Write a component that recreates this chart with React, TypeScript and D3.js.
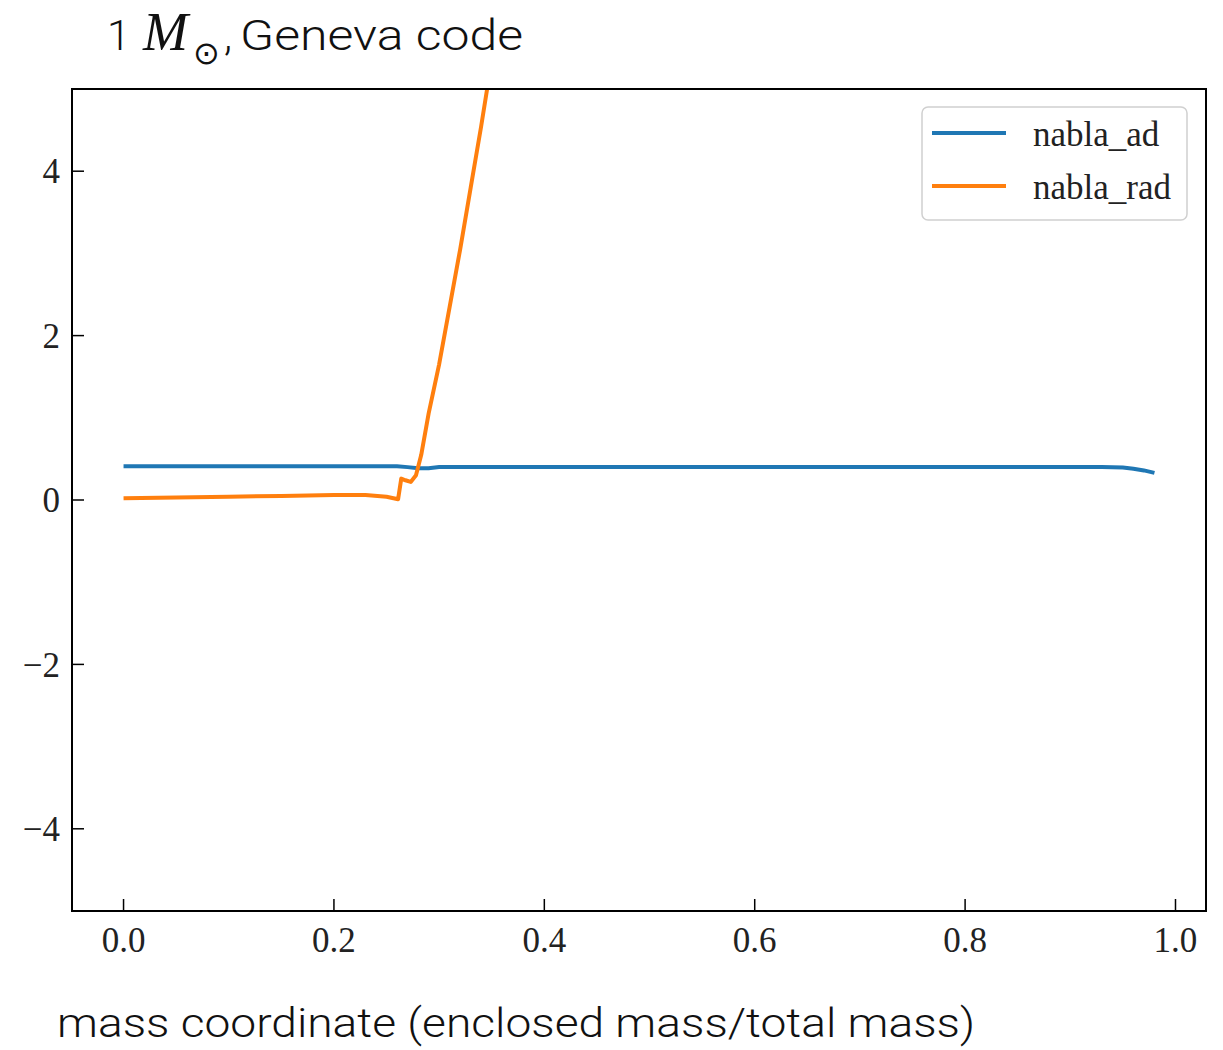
import * as d3 from 'd3';
import React from 'react';

// nabla_ad curve
const adMass = [0, 0.1, 0.2, 0.25, 0.26, 0.27, 0.28, 0.29, 0.3, 0.4, 0.6, 0.8, 0.9, 0.93, 0.95, 0.96, 0.97, 0.98];
const adValues = [0.41, 0.41, 0.41, 0.41, 0.41, 0.4, 0.385, 0.385, 0.4, 0.4, 0.4, 0.4, 0.4, 0.4, 0.395, 0.38, 0.36, 0.33];

// nabla_rad curve
const radMass = [0, 0.05, 0.1, 0.15, 0.2, 0.23, 0.25, 0.261, 0.264, 0.268, 0.273, 0.278, 0.283, 0.29, 0.3, 0.31, 0.32, 0.33, 0.34, 0.35, 0.36];
const radValues = [0.02, 0.03, 0.04, 0.05, 0.06, 0.06, 0.04, 0.01, 0.26, 0.24, 0.22, 0.3, 0.55, 1.05, 1.65, 2.35, 3.05, 3.8, 4.55, 5.35, 6.2];

const xTicks = [0, 0.2, 0.4, 0.6, 0.8, 1.0];
const xTickLabels = ['0.0', '0.2', '0.4', '0.6', '0.8', '1.0'];
const yTicks = [-4, -2, 0, 2, 4];
const yTickLabels = ['\u22124', '\u22122', '0', '2', '4'];

const seriesNames = ['nabla_ad', 'nabla_rad'];
const seriesColors = ['#1f77b4', '#ff7f0e'];

const App = () => {
    // plot box
    const left = 72, right = 1206, top = 89, bottom = 911;

    const x = d3.scaleLinear().domain([-0.049, 1.029]).range([left, right]);
    const y = d3.scaleLinear().domain([-5, 5]).range([bottom, top]);

    const line = d3.line<[number, number]>()
        .x(d => x(d[0]))
        .y(d => y(d[1]));

    const adPath = line(adMass.map((m, i) => [m, adValues[i]]));
    const radPath = line(radMass.map((m, i) => [m, radValues[i]]));

    const tickFont = '"Liberation Serif", "Times New Roman", serif';
    const sansFont = '"Helvetica Neue", Roboto, "Liberation Sans", sans-serif';

    return (
        <svg width={1223} height={1050} style={{ display: 'block', position: 'absolute', left: 0, top: 0, background: '#fff' }}>
            <defs>
                <clipPath id="plot-clip">
                    <rect x={left} y={top} width={right - left} height={bottom - top} />
                </clipPath>
            </defs>

            {/* title */}
            <text x={107} y={50} fontFamily={sansFont} fontWeight={300} fontSize={42} fill="#111">1</text>
            <text x={143} y={50} fontFamily={tickFont} fontStyle="italic" fontSize={54} fill="#111">M</text>
            <text x={193} y={64} fontFamily={sansFont} fontSize={32} fill="#111">{'\u2299'}</text>
            <text x={224} y={50} fontFamily={sansFont} fontWeight={300} fontSize={42} fill="#111">,</text>
            <text x={240} y={50} fontFamily={sansFont} fontWeight={300} fontSize={42} fill="#111"
                textLength={283} lengthAdjust="spacingAndGlyphs">Geneva code</text>

            {/* lines */}
            <g clipPath="url(#plot-clip)">
                <path d={adPath || ''} fill="none" stroke={seriesColors[0]} strokeWidth={4} />
                <path d={radPath || ''} fill="none" stroke={seriesColors[1]} strokeWidth={4} strokeLinejoin="round" />
            </g>

            {/* ticks, inward */}
            {xTicks.map((t, i) => (
                <g key={'x' + i}>
                    <line x1={x(t)} x2={x(t)} y1={bottom} y2={bottom - 12} stroke="#000" strokeWidth={1.5} />
                    <text x={x(t)} y={952} textAnchor="middle" fontFamily={tickFont} fontSize={35} fill="#222">{xTickLabels[i]}</text>
                </g>
            ))}
            {yTicks.map((t, i) => (
                <g key={'y' + i}>
                    <line x1={left} x2={left + 12} y1={y(t)} y2={y(t)} stroke="#000" strokeWidth={1.5} />
                    <text x={60} y={y(t)} dy="0.35em" textAnchor="end" fontFamily={tickFont} fontSize={35} fill="#222">{yTickLabels[i]}</text>
                </g>
            ))}

            {/* frame */}
            <rect x={left} y={top} width={right - left} height={bottom - top} fill="none" stroke="#000" strokeWidth={2} />

            {/* legend */}
            <rect x={922} y={107} width={265} height={113} rx={6} fill="#fff" fillOpacity={0.8} stroke="#d0d0d0" strokeWidth={1.5} />
            {seriesNames.map((name, i) => (
                <g key={name}>
                    <line x1={932} x2={1006} y1={133 + i * 53} y2={133 + i * 53} stroke={seriesColors[i]} strokeWidth={4} />
                    <text x={1033} y={146 + i * 53} fontFamily={tickFont} fontSize={35} fill="#222">{name}</text>
                </g>
            ))}

            {/* x label */}
            <text x={57} y={1037} fontFamily={sansFont} fontWeight={300} fontSize={40} fill="#111"
                textLength={918} lengthAdjust="spacingAndGlyphs">
                mass coordinate (enclosed mass/total mass)
            </text>
        </svg>
    );
};

export default App;
